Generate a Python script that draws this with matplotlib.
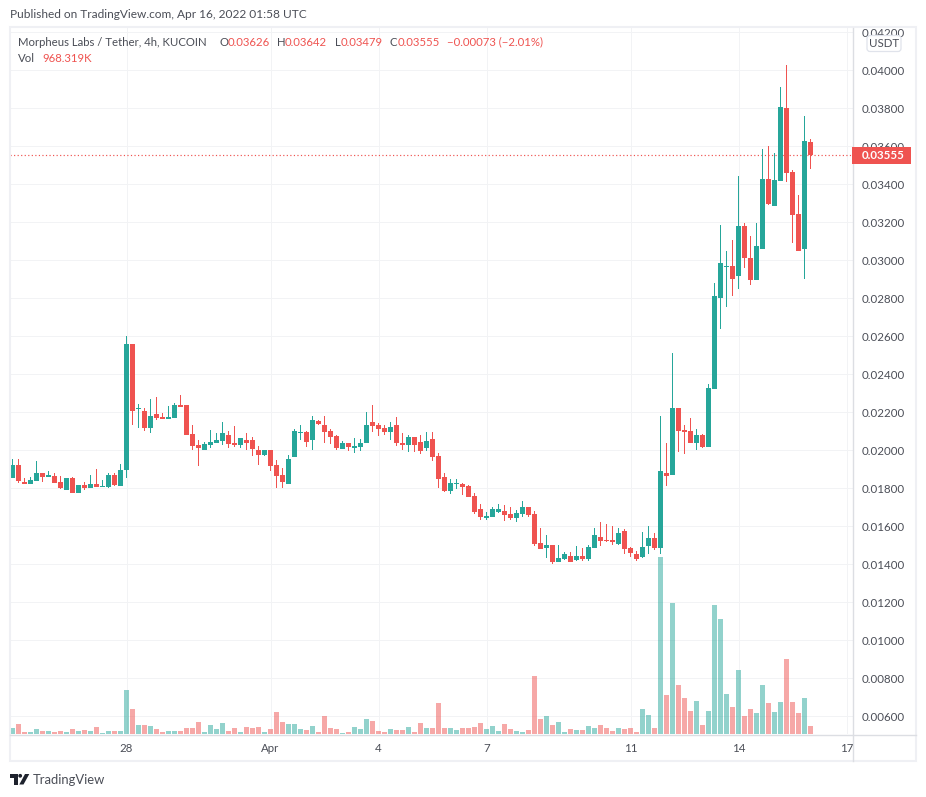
import matplotlib
matplotlib.use("Agg")
import matplotlib.pyplot as plt
from matplotlib.transforms import Affine2D
from matplotlib.patches import Rectangle, Polygon, Circle, FancyBboxPatch
from matplotlib.lines import Line2D

W, H = 926, 797
TEAL, RED = "#26a69a", "#ef5350"
TXT = "#4b4e57"
plt.rcParams["font.family"] = ["Lato", "DejaVu Sans"]

# prices in 1e-5 USDT, 4h candles
opens = [1854,1923,1833,1823,1839,1881,1860,1865,1833,1791,
         1854,1775,1818,1802,1823,1807,1807,1870,1812,1896,
         2559,2217,2207,2117,2191,2175,2165,2170,2239,2239,
         2086,2028,2002,2028,2039,2049,2081,2039,2028,2054,
         2054,2002,1975,2002,1923,1870,1823,1965,2093,2098,
         2056,2156,2135,2103,2077,2009,2040,2014,2019,2040,
         2151,2135,2119,2098,2135,2040,2030,2072,2045,2014,
         2061,1972,1861,1788,1824,1824,1814,1761,1693,1646,
         1651,1677,1682,1667,1646,1667,1703,1667,1514,1488,
         1503,1414,1428,1444,1423,1444,1428,1486,1544,1528,
         1528,1507,1575,1486,1454,1439,1496,1539,1486,1881,
         1870,2223,2107,2102,2038,2081,2017,2323,2802,2965,
         2970,2917,3181,3012,2896,3059,3428,3286,3417,3801,
         3465,3244,3059,3626]
closes = [1923,1839,1823,1844,1881,1860,1870,1828,1802,1854,
          1775,1818,1802,1823,1807,1812,1870,1818,1896,2559,
          2207,2223,2117,2181,2170,2165,2175,2239,2228,2081,
          2023,2012,2033,2044,2054,2091,2033,2028,2065,2039,
          2007,1975,2002,1918,1865,1833,1954,2102,2098,2045,
          2161,2140,2098,2072,2014,2040,2019,2024,2040,2135,
          2130,2114,2098,2124,2040,2030,2072,2030,1998,2051,
          1967,1851,1788,1830,1830,1809,1756,1677,1651,1656,
          1693,1693,1661,1646,1672,1703,1661,1509,1482,1503,
          1414,1435,1454,1412,1444,1428,1491,1554,1523,1523,
          1518,1565,1481,1460,1428,1491,1539,1486,1891,1865,
          2223,2102,2096,2038,2081,2017,2328,2812,2986,2970,
          2902,3181,3012,2896,3075,3428,3296,3423,3807,3459,
          3238,3049,3628,3555]
highs = [1954,1954,1854,1860,1944,1881,1891,1881,1865,1854,
         1860,1818,1833,1870,1902,1844,1881,1881,1928,2600,
         2559,2244,2223,2270,2281,2196,2233,2249,2291,2239,
         2133,2054,2044,2107,2091,2149,2102,2128,2065,2091,
         2070,2023,2002,2002,1949,1907,1975,2112,2135,2103,
         2182,2161,2182,2114,2082,2051,2040,2067,2061,2203,
         2240,2145,2135,2151,2177,2093,2082,2072,2082,2098,
         2098,1988,1882,1851,1851,1830,1819,1777,1719,1677,
         1703,1719,1714,1703,1688,1735,1703,1682,1593,1556,
         1503,1503,1465,1465,1496,1486,1502,1591,1623,1612,
         1602,1591,1586,1491,1470,1570,1602,1565,2181,2038,
         2512,2223,2133,2170,2112,2086,2349,2881,3186,3049,
         3107,3444,3196,3128,3196,3586,3601,3565,3912,4028,
         3475,3344,3759,3642]
lows = [1854,1828,1823,1823,1839,1833,1860,1828,1796,1791,
        1775,1775,1791,1802,1807,1807,1802,1812,1812,1854,
        2133,2117,2102,2091,2160,2165,2165,2170,2228,2081,
        2002,1918,2002,2012,2039,2028,2012,2018,2012,2002,
        1970,1923,1970,1891,1802,1802,1823,1965,2056,2019,
        2003,2135,2040,2035,2003,2009,1998,1988,1998,2040,
        2098,2077,2082,2056,2024,2003,1993,1993,1982,1998,
        1945,1803,1782,1772,1798,1767,1756,1667,1635,1635,
        1651,1672,1630,1635,1625,1651,1651,1498,1482,1435,
        1404,1414,1423,1412,1418,1418,1418,1486,1496,1518,
        1502,1502,1454,1439,1418,1433,1454,1475,1454,1812,
        1870,1991,1981,2038,2002,2012,2017,2323,2639,2754,
        2812,2849,2960,2870,2896,3059,3291,3286,3417,3412,
        3091,3049,2902,3479]
# volume in thousands
volumes = [720,1200,240,240,600,360,360,240,360,240,
           600,360,480,360,840,120,360,360,360,5280,
           3000,1080,1080,960,600,240,360,360,360,720,
           720,1440,240,1080,600,1320,360,720,240,840,
           720,840,240,600,2640,1440,1200,1200,600,480,
           960,240,2160,720,600,120,240,840,600,1800,
           1560,360,240,600,480,480,840,240,1320,720,
           720,3720,720,720,480,720,720,840,1320,600,
           960,360,1200,600,360,240,480,6960,1800,2160,
           1080,1440,240,600,480,480,960,720,1080,720,
           360,720,600,720,240,3000,2280,720,21240,4680,
           15720,5880,4320,2760,3960,1080,2760,15480,13800,4800,
           3240,7680,2160,3000,2520,5880,3720,2640,3840,9000,
           3840,2520,4320,968]

tick_idx = [19, 43, 61, 79, 103, 121, 139]
tick_txt = ["28", "Apr", "4", "7", "11", "14", "17"]
price_ticks = [0.006 + 0.002 * k for k in range(19)]
last_price = 0.03555

fig = plt.figure(figsize=(W / 100, H / 100), dpi=100, facecolor="white")
px = Affine2D().scale(1, -1).translate(0, H)

L, R, T, B = 10, 852.5, 28, 734
rect = [L / W, 1 - B / H, (R - L) / W, (B - T) / H]
ax = fig.add_axes(rect, zorder=1)
xlim = ((L - 12.5) / 6, (R - 12.5) / 6)
ax.set_xlim(*xlim)
ax.set_ylim(0.04 - (B - 70.5) / 19000, 0.04 - (T - 70.5) / 19000)
for s in ax.spines.values():
    s.set_visible(False)
ax.yaxis.tick_right()
ax.set_yticks(price_ticks)
ax.set_yticklabels([f"{v:.5f}" for v in price_ticks])
ax.set_xticks(tick_idx)
ax.set_xticklabels(tick_txt)
ax.tick_params(axis="y", length=0, pad=6.8, labelsize=8.3, labelcolor=TXT)
ax.tick_params(axis="x", length=0, pad=6.6, labelsize=8.3, labelcolor=TXT)
ax.grid(True, color="#f2f3f5", lw=0.72)
ax.set_axisbelow(True)

xs = list(range(len(opens)))
cols = [TEAL if c >= o else RED for o, c in zip(opens, closes)]
ax.bar(xs, [(h - l) / 1e5 for h, l in zip(highs, lows)], bottom=[l / 1e5 for l in lows],
       width=1 / 6, color=cols, lw=0, zorder=3)
ax.bar(xs, [abs(c - o) / 1e5 for o, c in zip(opens, closes)],
       bottom=[min(o, c) / 1e5 for o, c in zip(opens, closes)],
       width=5 / 6, color=cols, lw=0, zorder=4)
ax.axhline(last_price, color=RED, lw=0.85, ls=(0, (1, 2)), zorder=2)

vax = fig.add_axes(rect, zorder=2)
vax.patch.set_alpha(0)
vax.set_xlim(*xlim)
vax.set_ylim(0, (B - T) * 120)
vax.axis("off")
vax.bar(xs, volumes, width=5 / 6, color=cols, alpha=0.5, lw=0)

def add(a):
    a.set_transform(px)
    a.set_zorder(5)
    fig.add_artist(a)

# frame and axis rules
add(Rectangle((9.5, 27), 906.5, 734, fill=False, ec="#eff0f4", lw=1.5))
add(Line2D([852.5, 852.5], [28, 761], color="#dcdee3", lw=1.0))
add(Line2D([10, 916], [734.5, 734.5], color="#dcdee3", lw=1.0))

# last-price tag
add(Rectangle((852, 147), 59, 16.5, fc=RED, ec="none"))
fig.text(883, 155.5, "0.03555", transform=px, color="white", fontsize=8.3, fontweight="bold",
         ha="center", va="center", zorder=6)

# currency box
add(FancyBboxPatch((868, 36.5), 32, 14, boxstyle="round,pad=1,rounding_size=3",
                   fc="white", ec="#e0e3eb", lw=0.9))
fig.text(884, 43.5, "USDT", transform=px, color=TXT, fontsize=8.3, ha="center", va="center", zorder=6)

# header texts
fig.text(10, 15, "Published on TradingView.com, Apr 16, 2022 01:58 UTC", transform=px,
         color=TXT, fontsize=8.55, va="center", zorder=6)
GREY = TXT
legend = [(18, "Morpheus Labs / Tether, 4h, KUCOIN", GREY), (220, "O", GREY), (228, "0.03626", RED),
          (277, "H", GREY), (285, "0.03642", RED), (335, "L", GREY), (341, "0.03479", RED),
          (390, "C", GREY), (398, "0.03555", RED), (447, "−0.00073 (−2.01%)", RED)]
for x, s, c in legend:
    fig.text(x, 42, s, transform=px, color=c, fontsize=8.2, va="center", zorder=6)
fig.text(18, 59, "Vol", transform=px, color=GREY, fontsize=8.2, va="center", zorder=6)
fig.text(42, 59, "968.319K", transform=px, color=RED, fontsize=8.2, va="center", zorder=6)

# footer mark
K = "#1e222d"
add(Polygon([(10, 774), (17.5, 774), (17.5, 784.5), (14, 784.5), (14, 777.5), (10, 777.5)], fc=K, ec="none"))
add(Circle((20.2, 775.8), 1.9, fc=K, ec="none"))
add(Polygon([(25, 774), (29.3, 774), (23.5, 784.5), (19.3, 784.5)], fc=K, ec="none"))
fig.text(33, 779.5, "TradingView", transform=px, color=TXT, fontsize=9.4, va="center", zorder=6)

fig.savefig("out.png", dpi=100, facecolor="white")
